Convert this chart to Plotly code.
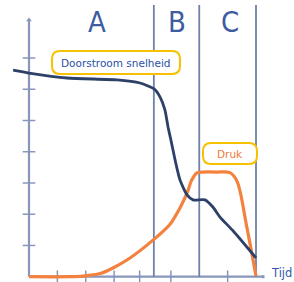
import plotly.graph_objects as go

# ---- data (time units on x, arbitrary units on y) ----
flow_x = [-0.56, 0.0, 1.34, 3.10, 3.91, 4.41, 4.62, 4.79, 4.90, 5.00, 5.15, 5.32, 5.57, 5.78, 6.20, 6.48, 6.73, 7.19, 8.0]
flow_y = [6.61, 6.52, 6.36, 6.30, 6.20, 6.01, 5.75, 5.34, 4.79, 4.38, 3.73, 3.10, 2.62, 2.46, 2.46, 2.23, 1.91, 1.47, 0.60]

press_x = [0.0, 1.44, 1.90, 2.50, 2.96, 3.56, 4.37, 4.97, 5.32, 5.57, 5.74, 5.92, 6.13, 6.63, 7.08, 7.33, 7.67, 8.0]
press_y = [0.0, 0.0, 0.02, 0.10, 0.28, 0.60, 1.17, 1.68, 2.20, 2.68, 3.10, 3.32, 3.35, 3.35, 3.33, 3.06, 1.62, 0.02]

phase_bounds = [4.4, 6.0, 8.0]
phase_labels = ["A", "B", "C"]
phase_label_x = [2.41, 5.2, 7.08]

x_ticks = [1, 2, 3, 3.9, 5, 7]
y_ticks = [1, 2, 3, 4, 5, 6, 7]

# ---- pixel geometry ----
W, H = 294, 282
X0, SX = 29.0, 28.375     # px of x=0, px per unit
Y0, SY = 276.7, 31.24     # px of y=0, px per unit


def dx(px):
    return (px - X0) / SX


def dy(py):
    return (Y0 - py) / SY


x_top = dx(263)
y_top = dy(20)

fig = go.Figure()

AX_COL = "#8797bb"

# tick marks
fig.add_trace(go.Scatter(x=x_ticks, y=[0] * len(x_ticks), mode="markers",
                         marker=dict(symbol="line-ns-open", size=9, color=AX_COL,
                                     line=dict(color=AX_COL, width=1.5)),
                         hoverinfo="skip", cliponaxis=False, showlegend=False))
fig.add_trace(go.Scatter(x=[0] * len(y_ticks), y=y_ticks, mode="markers",
                         marker=dict(symbol="line-ew-open", size=9, color=AX_COL,
                                     line=dict(color=AX_COL, width=1.5)),
                         hoverinfo="skip", cliponaxis=False, showlegend=False))
# axis ends
fig.add_trace(go.Scatter(x=[0], y=[y_top], mode="markers",
                         marker=dict(symbol="triangle-up", size=5, color=AX_COL),
                         hoverinfo="skip", cliponaxis=False, showlegend=False))
fig.add_trace(go.Scatter(x=[x_top], y=[0], mode="markers",
                         marker=dict(symbol="square", size=3, color=AX_COL),
                         hoverinfo="skip", cliponaxis=False, showlegend=False))

# curves
fig.add_trace(go.Scatter(x=press_x, y=press_y, mode="lines",
                         line=dict(color="#f4823f", width=3.2, shape="spline", smoothing=0.9),
                         showlegend=False, hoverinfo="skip"))
fig.add_trace(go.Scatter(x=flow_x, y=flow_y, mode="lines",
                         line=dict(color="#2d4068", width=2.8, shape="spline", smoothing=0.6),
                         showlegend=False, hoverinfo="skip"))

shapes = []
# axes lines
shapes.append(dict(type="line", xref="x", yref="y", x0=0, x1=0, y0=0, y1=y_top,
                   line=dict(color=AX_COL, width=2.2), layer="below"))
shapes.append(dict(type="line", xref="x", yref="y", x0=0, x1=x_top, y0=0, y1=0,
                   line=dict(color=AX_COL, width=2.2), layer="below"))
# phase boundaries
for b in phase_bounds:
    shapes.append(dict(type="line", xref="x", yref="y", x0=b, x1=b, y0=0, y1=dy(5),
                       line=dict(color="#6f80aa", width=1.8), layer="below"))


def rounded_box(px0, py0, px1, py1, r=8):
    p = (f"M {dx(px0 + r)},{dy(py0)} L {dx(px1 - r)},{dy(py0)} "
         f"Q {dx(px1)},{dy(py0)} {dx(px1)},{dy(py0 + r)} L {dx(px1)},{dy(py1 - r)} "
         f"Q {dx(px1)},{dy(py1)} {dx(px1 - r)},{dy(py1)} L {dx(px0 + r)},{dy(py1)} "
         f"Q {dx(px0)},{dy(py1)} {dx(px0)},{dy(py1 - r)} L {dx(px0)},{dy(py0 + r)} "
         f"Q {dx(px0)},{dy(py0)} {dx(px0 + r)},{dy(py0)} Z")
    return dict(type="path", xref="x", yref="y", path=p,
                line=dict(color="#f6c200", width=2), fillcolor="white", layer="above")


shapes.append(rounded_box(52, 51, 180, 74, r=8))
shapes.append(rounded_box(203, 143, 257, 164, r=8))

annotations = []
for lab, lx in zip(phase_labels, phase_label_x):
    annotations.append(dict(x=lx, y=dy(21.5), xref="x", yref="y", text=lab, showarrow=False,
                            font=dict(family="Liberation Sans Narrow, DejaVu Sans Condensed, Arial Narrow",
                                      size=29, color="#3e5c9f"),
                            xanchor="center", yanchor="middle"))
annotations.append(dict(x=dx(116), y=dy(62.5), xref="x", yref="y", text="Doorstroom snelheid",
                        showarrow=False, font=dict(family="DejaVu Sans", size=10.5, color="#2c4fa3"),
                        xanchor="center", yanchor="middle"))
annotations.append(dict(x=dx(230), y=dy(153.5), xref="x", yref="y", text="Druk",
                        showarrow=False, font=dict(family="DejaVu Sans", size=10.5, color="#f07a35"),
                        xanchor="center", yanchor="middle"))
annotations.append(dict(x=dx(269), y=dy(272.5), xref="x", yref="y", text="Tijd",
                        showarrow=False, font=dict(family="DejaVu Sans", size=11.5, color="#3457ab"),
                        xanchor="left", yanchor="middle"))

fig.update_layout(
    width=W, height=H,
    margin=dict(l=0, r=0, t=0, b=0),
    paper_bgcolor="white", plot_bgcolor="white",
    xaxis=dict(range=[dx(0), dx(W)], visible=False, domain=[0, 1]),
    yaxis=dict(range=[dy(H), dy(0)], visible=False, domain=[0, 1]),
    shapes=shapes, annotations=annotations,
)

fig.write_html("out.html", config={"displayModeBar": False},
               post_script="document.body.style.margin='0px';document.body.style.overflow='hidden';")
